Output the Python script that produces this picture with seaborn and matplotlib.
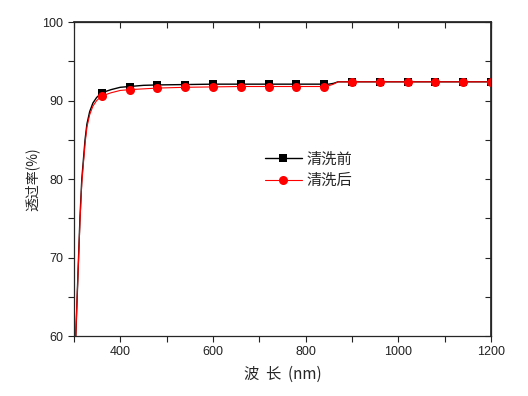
import matplotlib
matplotlib.use("Agg")
import matplotlib.pyplot as plt
import matplotlib.ticker as mticker
import seaborn as sns
import pandas as pd

# 波长 (nm) 与透过率 (%)
wavelength = [300, 304, 307, 313, 317, 324, 328, 334, 341, 349, 360, 380, 400, 420,
              450, 480, 540, 600, 660, 720, 780, 840, 850, 860, 870, 900, 960,
              1020, 1080, 1140, 1200]
before = [55.0, 60.0, 65.0, 75.0, 80.0, 85.0, 87.0, 88.6, 89.7, 90.4, 91.0, 91.4,
          91.7, 91.8, 91.95, 92.0, 92.05, 92.1, 92.1, 92.1, 92.1, 92.1, 92.1,
          92.2, 92.4, 92.4, 92.4, 92.4, 92.4, 92.4, 92.4]
after = [55.0, 60.0, 65.0, 74.5, 79.5, 84.5, 86.6, 88.2, 89.3, 90.0, 90.6, 91.0,
         91.3, 91.4, 91.5, 91.6, 91.7, 91.75, 91.8, 91.8, 91.8, 91.8, 91.9,
         92.1, 92.4, 92.4, 92.4, 92.4, 92.4, 92.4, 92.4]
marker_wl = [360, 420, 480, 540, 600, 660, 720, 780, 840, 900, 960, 1020, 1080, 1140, 1200]

sns.set_theme(style="ticks")
plt.rcParams["font.family"] = ["Liberation Sans", "Noto Sans CJK SC", "DejaVu Sans"]
cjk = ["Noto Sans CJK SC", "DejaVu Sans"]

df = pd.DataFrame({"wl": wavelength, "before": before, "after": after})
mark_idx = [wavelength.index(w) for w in marker_wl]

fig = plt.figure(figsize=(5.28, 3.96), dpi=100)
ax = fig.add_axes([0.140, 0.1515, 0.790, 0.7925])

sns.lineplot(data=df, x="wl", y="before", ax=ax, color="black", lw=1.0,
             marker="s", markersize=5.5, markevery=mark_idx, markeredgewidth=0,
             label="清洗前")
sns.lineplot(data=df, x="wl", y="after", ax=ax, color="red", lw=0.8,
             marker="o", markersize=6.5, markevery=mark_idx, markeredgewidth=0,
             label="清洗后")

ax.set_xlim(300, 1200)
ax.set_ylim(60, 100)
ax.xaxis.set_major_locator(mticker.MultipleLocator(200))
ax.xaxis.set_minor_locator(mticker.MultipleLocator(100))
ax.yaxis.set_major_locator(mticker.MultipleLocator(10))
ax.yaxis.set_minor_locator(mticker.MultipleLocator(5))
ax.xaxis.set_major_formatter(mticker.FuncFormatter(
    lambda v, _: "" if v == 300 else f"{v:.0f}"))
ax.tick_params(which="both", direction="out", length=4, width=0.8,
               labelsize=9, colors="#222222")

# 顶部与右侧的内向刻度
top = ax.secondary_xaxis("top")
top.xaxis.set_major_locator(mticker.MultipleLocator(200))
top.xaxis.set_minor_locator(mticker.MultipleLocator(100))
top.tick_params(which="both", direction="in", length=4, width=0.8, labeltop=False)
right = ax.secondary_yaxis("right")
right.yaxis.set_major_locator(mticker.MultipleLocator(10))
right.yaxis.set_minor_locator(mticker.MultipleLocator(5))
right.tick_params(which="both", direction="in", length=4, width=0.8, labelright=False)

for sp in ax.spines.values():
    sp.set_linewidth(0.9)
    sp.set_visible(True)

ax.set_xlabel("波  长  (nm)", family=cjk, fontsize=11, labelpad=5)
ax.set_ylabel("透过率(%)", family=cjk, fontsize=10, labelpad=2)

leg = ax.legend(loc="center left", bbox_to_anchor=(0.425, 0.53), frameon=False,
                handlelength=2.4, handletextpad=0.3, labelspacing=0.3,
                prop={"family": cjk, "size": 11})

fig.savefig("out.png", dpi=100)
